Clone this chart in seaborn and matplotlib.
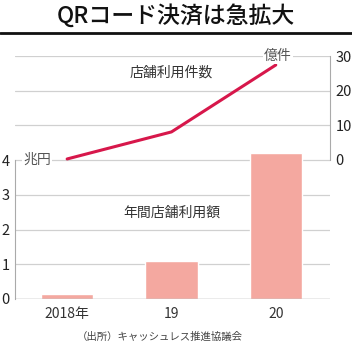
import matplotlib
matplotlib.use("Agg")
import matplotlib.pyplot as plt
import seaborn as sns
import pandas as pd

years = ["2018年", "19", "20"]
amount = [0.14, 1.09, 4.2]        # 年間店舗利用額 (兆円)
count = [0.3, 8.1, 27.4]          # 店舗利用件数 (億件)
amount_ticks = [0, 1, 2, 3, 4]
count_ticks = [0, 10, 20, 30]

sns.set_style("white")
plt.rcParams['font.family'] = ['Noto Sans CJK JP', 'DejaVu Sans']

bar_color = "#f4a8a0"
line_color = "#d7174b"
grid_color = "#d0d0d0"
text_color = "#333333"

fig = plt.figure(figsize=(3.52, 3.52), dpi=100)
fig.text(0.5, 1 - 16 / 352, "QRコード決済は急拡大", ha="center", va="center",
         fontsize=16.5, fontweight="medium", color="#111111")
fig.add_artist(plt.Line2D([0, 1], [1 - 33 / 352, 1 - 33 / 352], color="#111111", lw=2))

# axes spans y pixel 56 .. 299, x pixel 15 .. 330
ax = fig.add_axes([15 / 352, 1 - 299 / 352, 315 / 352, 243 / 352])
ax2 = ax.twinx()

df = pd.DataFrame({"year": years, "amount": amount, "count": count})
sns.barplot(data=df, x="year", y="amount", color=bar_color, width=0.5,
            saturation=1, ax=ax, zorder=3)
sns.lineplot(x=range(len(years)), y=df["count"], color=line_color, lw=2.2,
             ax=ax2, zorder=4, clip_on=False)

px_per_unit = (299 - 160) / 4
ax.set_ylim(0, 243 / px_per_unit)
ax.set_xlim(-0.5, 2.52)
c_px = (160 - 56) / 30
ax2.set_ylim(-(299 - 160) / c_px, 30)

for v in amount_ticks[1:]:
    ax.axhline(v, color=grid_color, lw=0.9, zorder=1)
for v in count_ticks[1:]:
    ax2.axhline(v, color=grid_color, lw=0.9, zorder=1)
ax.axhline(0, color="#999999", lw=1.0, zorder=4)

ax.set_yticks(amount_ticks)
ax2.set_yticks(count_ticks)
ax.set_xlabel("")
ax.set_ylabel("")
ax2.set_ylabel("")
for a in (ax, ax2):
    for s in a.spines.values():
        s.set_visible(False)
ax.spines["left"].set_visible(True)
ax.spines["left"].set_bounds(0, 4)
ax.spines["left"].set_color("#aaaaaa")
ax2.spines["right"].set_visible(True)
ax2.spines["right"].set_bounds(0, 30)
ax2.spines["right"].set_color("#aaaaaa")

ax.tick_params(axis="y", length=0, pad=4, labelsize=10.5, labelcolor="#222222")
ax2.tick_params(axis="y", length=0, pad=4, labelsize=10.5, labelcolor="#222222")
ax.tick_params(axis="x", length=0, pad=6, labelsize=10, labelcolor=text_color)

ax2.text(0.07, 0, "兆円", ha="center", va="center", fontsize=10, color="#555555",
         transform=ax2.get_yaxis_transform(), zorder=5,
         bbox=dict(facecolor="white", edgecolor="none", pad=1))
ax2.text(0.835, 30, "億件", ha="center", va="center", fontsize=10, color="#555555",
         transform=ax2.get_yaxis_transform(), zorder=5,
         bbox=dict(facecolor="white", edgecolor="none", pad=1))

ax2.text(1, 25.3, "店舗利用件数", ha="center", va="center", fontsize=10, color=text_color)
ax.text(1, 2.47, "年間店舗利用額", ha="center", va="center", fontsize=10, color=text_color)

fig.text(0.455, 1 - 337 / 352, "（出所）キャッシュレス推進協議会", ha="center", va="center",
         fontsize=7.5, color="#444444")

fig.savefig("out.png", dpi=100)
